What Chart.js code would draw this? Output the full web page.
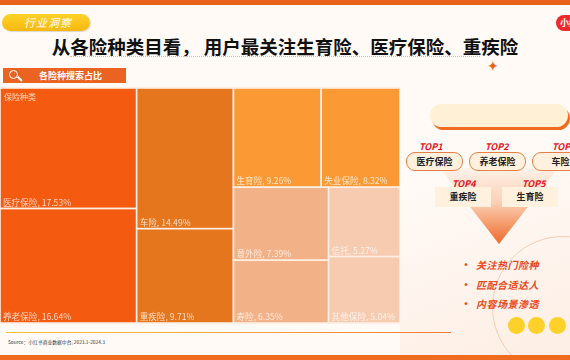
<!DOCTYPE html>
<html>
<head>
<meta charset="utf-8">
<script src="https://cdn.jsdelivr.net/npm/chart.js@4.4.1/dist/chart.umd.min.js"></script>
<style>
  body { margin: 0; width: 570px; height: 360px; overflow: hidden; background: #fffaf6; font-family: "Noto Sans CJK SC", "Noto Sans", sans-serif; position: relative; }
  .abs { position: absolute; }
  .topbar { left: 0; top: 0; width: 570px; height: 5px; background: #e8621c; }
  .botbar { left: 0; top: 355px; width: 570px; height: 5px; background: #ee6b1f; }
  .tag { left: 2px; top: 14px; width: 88px; height: 17px; border-radius: 9px; background: linear-gradient(#ffd22a, #f5b80e); box-shadow: 1px 1px 1px rgba(0,0,0,0.15); color: #fff; font-size: 11px; font-style: italic; line-height: 17px; text-indent: 22px; letter-spacing: 1px; }
  .title { left: 0; top: 33px; width: 570px; text-align: center; font-size: 18.5px; font-weight: bold; color: #111; line-height: 26px; white-space: pre; }
  .uline { left: 70px; top: 56px; width: 410px; border-top: 1px dotted #f4c040; }
  .spark { left: 487px; top: 55px; color: #e8621c; font-size: 14px; }
  .badge { left: 556px; top: 15px; width: 30px; height: 16px; border-radius: 8px; background: #ee2a2a; color: #fff; font-size: 9px; line-height: 16px; text-indent: 4px; font-weight: bold; }
  .band { left: 3px; top: 68px; width: 123px; height: 15px; background: #ea6320; color: #fff; font-size: 9px; font-weight: bold; line-height: 15px; }
  .band span { position: absolute; left: 36px; }
  .lens { left: 9px; top: 70px; width: 7px; height: 7px; border: 1.5px solid #fff; border-radius: 50%; }
  .handle { left: 17px; top: 78px; width: 6px; height: 1.5px; background: #fff; transform: rotate(45deg); }
  #wrap { position: absolute; left: 0; top: 86px; width: 400px; height: 239px; }
  .srcline { left: 6px; top: 332px; width: 445px; height: 1px; background: linear-gradient(90deg, #f6c030, #f4a040 60%, #ee7a3a); }
  .src { left: 8px; top: 338px; font-size: 4.8px; color: #333; white-space: nowrap; }
  .panel { left: 400px; top: 88px; width: 170px; height: 267px; background: linear-gradient(160deg, #fffaf6 30%, #fdeee4); }
  .pill { left: 430px; top: 104px; width: 138px; height: 23px; border-radius: 12px; background: #fff0d6; box-shadow: 2px 3px 0 #ee6b1f; }
  .top { color: #e8121c; font-size: 9px; font-weight: bold; font-style: italic; }
  .tp { height: 17px; border-radius: 9px; background: #fff1de; border: 1px solid #e87f47; font-size: 9px; font-weight: bold; color: #222; text-align: center; line-height: 17px; }
  .tb { height: 20px; background: #fff1de; font-size: 9px; font-weight: bold; color: #222; text-align: center; line-height: 20px; }
  .funnel { left: 440px; top: 168px; width: 118px; height: 76px; clip-path: polygon(0 0, 100% 0, 50% 100%); background: linear-gradient(rgba(250,200,170,0.15), rgba(248,170,120,0.5) 45%, #ee6a2a); }
  .arc { left: 492px; top: 236px; width: 140px; height: 140px; border-radius: 50%; border: 1px solid #f6cdb5; }
  .bul { left: 461px; font-size: 10px; color: #ea4a1c; font-style: italic; font-weight: bold; }
  .bul b { position: absolute; left: 0; color: #ea4a1c; font-style: normal; }
  .bul span { position: absolute; left: 15px; white-space: nowrap; letter-spacing: 0.5px; }
  .dot { top: 317px; width: 17px; height: 17px; border-radius: 50%; background: #fed02a; }
</style>
</head>
<body>
<div class="abs topbar"></div>
<div class="abs tag">行业洞察</div>
<div class="abs title">从各险种类目看， 用户最关注生育险、医疗保险、重疾险</div>
<div class="abs uline"></div>
<div class="abs spark">✦</div>
<div class="abs badge">小红</div>
<div class="abs band"><span>各险种搜索占比</span></div>
<div class="abs lens"></div>
<div class="abs handle"></div>
<div class="abs panel"></div>
<div class="abs arc"></div>
<div id="wrap"><canvas id="tree"></canvas></div>
<div class="abs srcline"></div>
<div class="abs src">Source：小红书商业数据中台, 2023.1-2024.3</div>

<div class="abs pill"></div>
<div class="abs funnel"></div>
<div class="abs top" style="left:419px;top:140px">TOP1</div>
<div class="abs top" style="left:485px;top:140px">TOP2</div>
<div class="abs top" style="left:552px;top:140px">TOP3</div>
<div class="abs tp" style="left:406px;top:152px;width:55px">医疗保险</div>
<div class="abs tp" style="left:469px;top:152px;width:55px">养老保险</div>
<div class="abs tp" style="left:532px;top:152px;width:55px">车险</div>
<div class="abs top" style="left:452px;top:177px">TOP4</div>
<div class="abs top" style="left:522px;top:177px">TOP5</div>
<div class="abs tb" style="left:435px;top:187px;width:56px">重疾险</div>
<div class="abs tb" style="left:502px;top:187px;width:56px">生育险</div>
<div class="abs bul" style="top:257px"><b>·</b><span>关注热门险种</span></div>
<div class="abs bul" style="top:277px"><b>·</b><span>匹配合适达人</span></div>
<div class="abs bul" style="top:296px"><b>·</b><span>内容场景渗透</span></div>
<div class="abs dot" style="left:508px"></div>
<div class="abs dot" style="left:528px"></div>
<div class="abs dot" style="left:549px"></div>
<div class="abs botbar"></div>

<script>
const categories = ['医疗保险', '养老保险', '车险', '重疾险', '生育险', '失业保险', '意外险', '寿险', '信托', '其他保险'];
const shares = [17.53, 16.64, 14.49, 9.71, 9.26, 8.32, 7.39, 6.35, 5.27, 5.04];
const cellColors = ['#f45b10', '#f45b10', '#e6761d', '#e6761d', '#fb9a35', '#fb9a35', '#f3b187', '#f3b187', '#f7cbb0', '#f7cbb0'];
const groupLabel = '保险种类';

// treemap layout in data units (squarify), mapped to pixels through the x/y scales
const W = 400, H = 235;

function worst(row, side) {
  const s = row.reduce((a, b) => a + b, 0);
  const mx = Math.max(...row), mn = Math.min(...row);
  return Math.max(side * side * mx / (s * s), (s * s) / (side * side * mn));
}

function squarify(values, x, y, w, h) {
  const total = values.reduce((a, b) => a + b, 0);
  const areas = values.map(v => v / total * w * h);
  const rects = [];
  let i = 0;
  while (i < areas.length) {
    const side = Math.min(w, h);
    let row = [areas[i]];
    let j = i + 1;
    while (j < areas.length && worst(row.concat(areas[j]), side) <= worst(row, side)) {
      row.push(areas[j]);
      j++;
    }
    const s = row.reduce((a, b) => a + b, 0);
    if (h <= w) {
      // column on the left
      const cw = s / h;
      let yy = y;
      row.forEach(a => { rects.push({ x0: x, y0: yy, x1: x + cw, y1: yy + a / cw }); yy += a / cw; });
      x += cw; w -= cw;
    } else {
      // row on top
      const rh = s / w;
      let xx = x;
      row.forEach(a => { rects.push({ x0: xx, y0: y, x1: xx + a / rh, y1: y + rh }); xx += a / rh; });
      y += rh; h -= rh;
    }
    i = j;
  }
  return rects;
}

const cells = squarify(shares, 0, 0, W, H);

const treePlugin = {
  id: 'treeCells',
  afterDatasetsDraw(chart) {
    const { ctx, scales: { x, y } } = chart;
    ctx.save();
    cells.forEach((c, k) => {
      const l = x.getPixelForValue(c.x0), r = x.getPixelForValue(c.x1);
      const t = y.getPixelForValue(c.y0), b = y.getPixelForValue(c.y1);
      ctx.fillStyle = cellColors[k];
      ctx.fillRect(l, t, r - l, b - t);
      ctx.strokeStyle = '#fdeee2';
      ctx.lineWidth = 1.6;
      ctx.strokeRect(l, t, r - l, b - t);
      ctx.fillStyle = 'rgba(255,255,255,0.75)';
      ctx.font = '8.6px "Noto Sans CJK SC"';
      ctx.textBaseline = 'bottom';
      ctx.fillText(categories[k] + ', ' + shares[k].toFixed(2) + '%', l + 3, b - 2);
    });
    const gx = x.getPixelForValue(0), gy = y.getPixelForValue(0);
    ctx.textBaseline = 'top';
    ctx.font = '8px "Noto Sans CJK SC"';
    ctx.fillText(groupLabel, gx + 4, gy + 5);
    ctx.restore();
  }
};

new Chart(document.getElementById('tree'), {
  type: 'scatter',
  data: { datasets: [{ data: [], pointRadius: 0 }] },
  options: {
    responsive: true,
    maintainAspectRatio: false,
    animation: false,
    layout: { padding: { left: 0, right: 0, top: 2, bottom: 2 } },
    plugins: { legend: { display: false }, tooltip: { enabled: false } },
    scales: {
      x: { type: 'linear', min: 0, max: W, display: false },
      y: { type: 'linear', min: 0, max: H, reverse: true, display: false }
    }
  },
  plugins: [treePlugin]
});
</script>
</body>
</html>
